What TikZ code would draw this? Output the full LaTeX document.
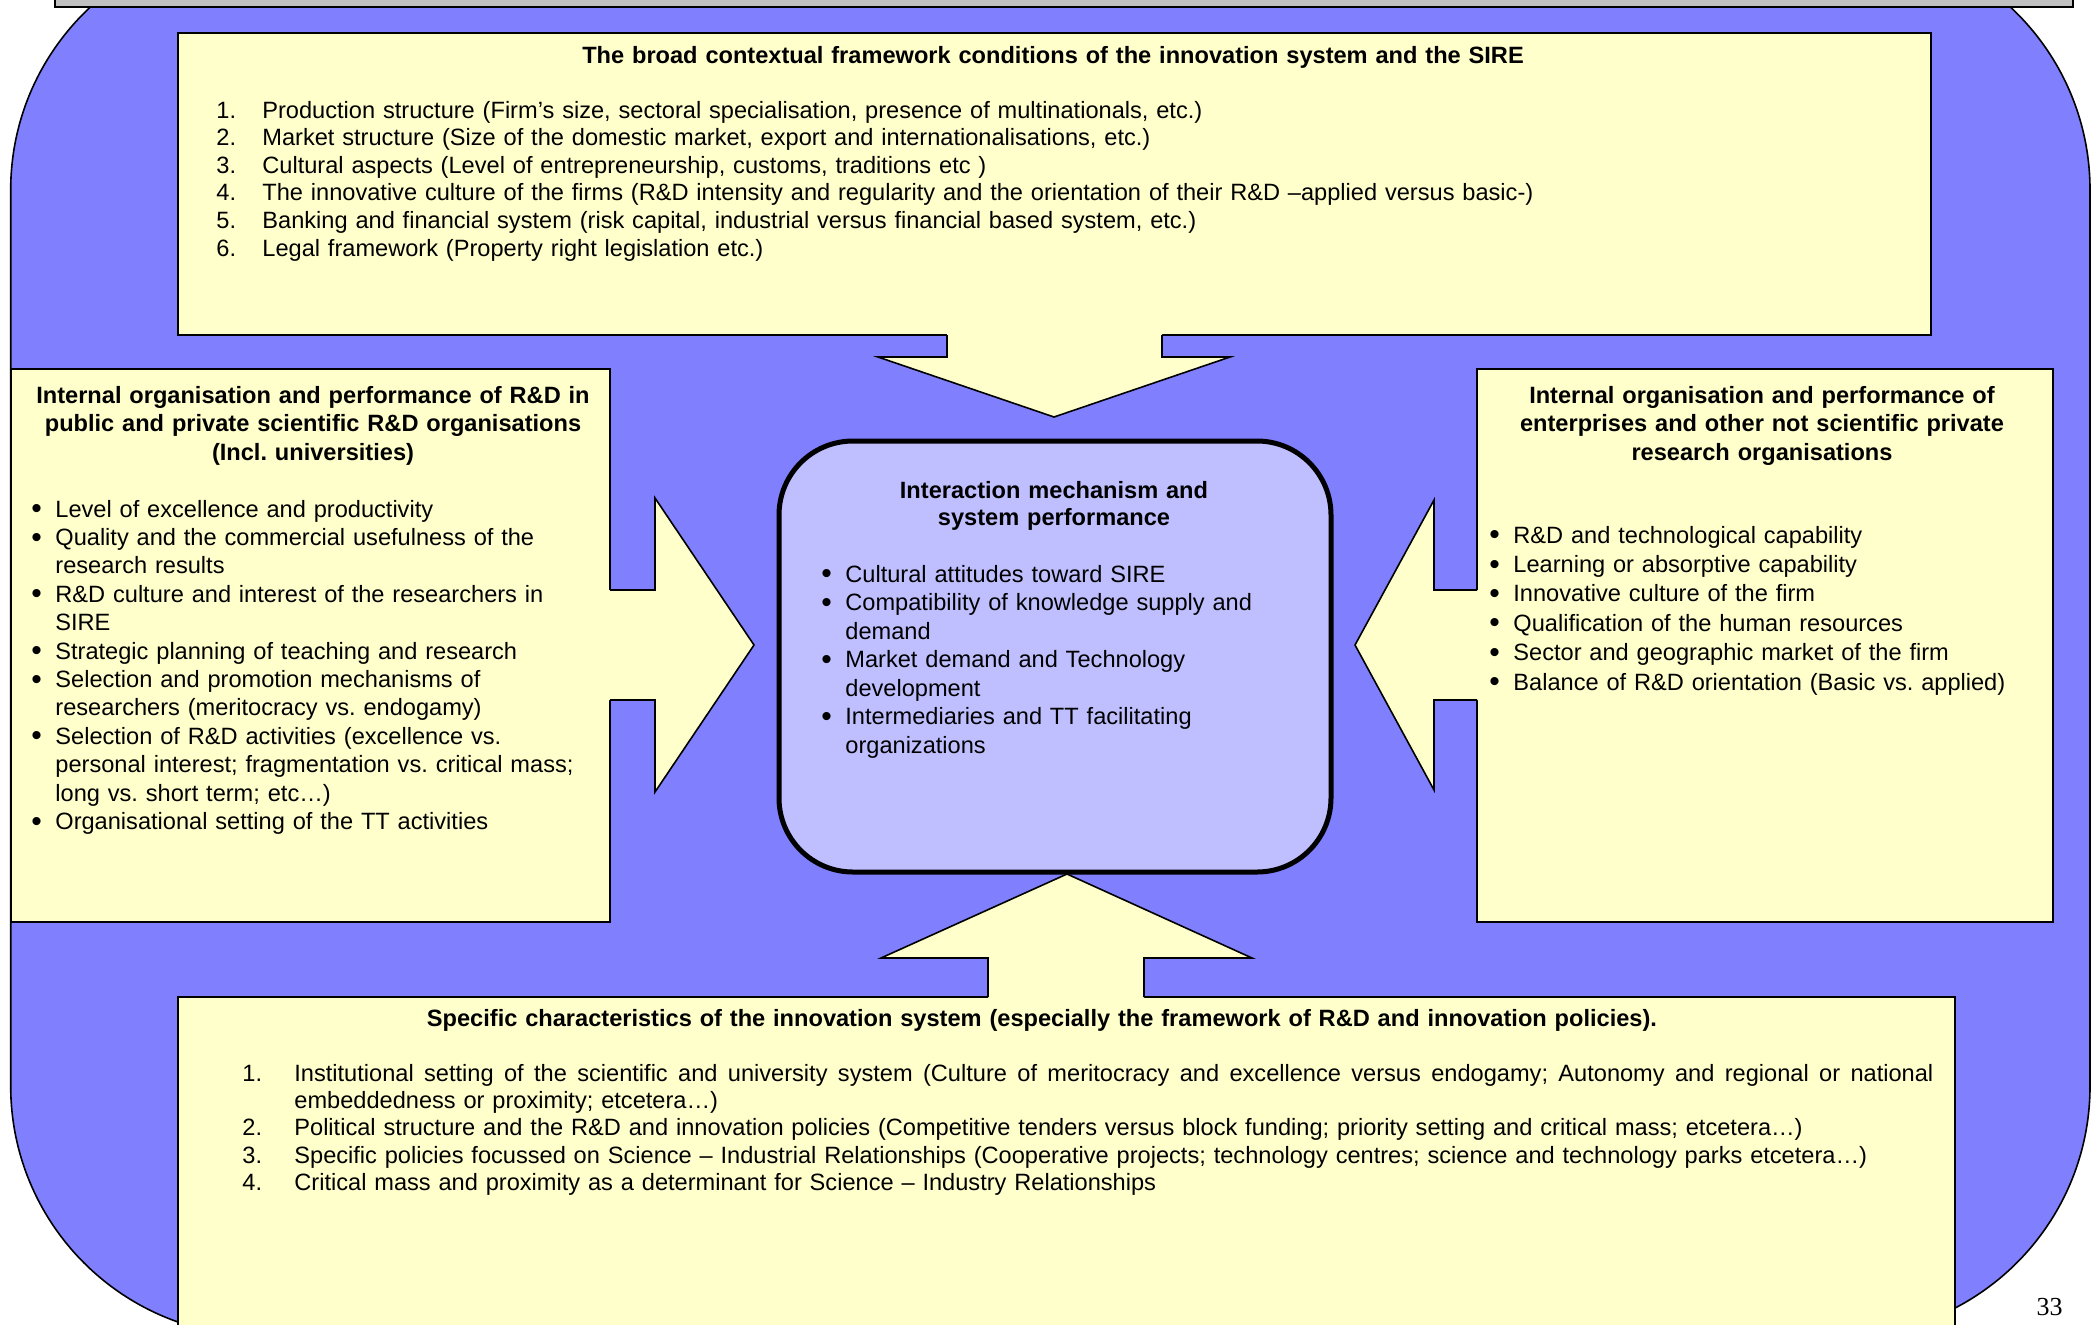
\documentclass[tikz,border=0pt]{standalone}
\usepackage{fontspec}
\setmainfont{Liberation Sans}
\newfontfamily\pageNumFont{Liberation Serif}
\frenchspacing
\definecolor{cFrame}{RGB}{128,128,255}
\definecolor{cPanel}{RGB}{255,255,204}
\definecolor{cCore}{RGB}{191,191,255}
\definecolor{cBar}{RGB}{192,192,192}
\tikzset{
    panel/.style={draw=black, fill=cPanel, line width=0.8pt},
    arrowEdge/.style={draw=black, line width=0.8pt, line join=miter},
    contentBox/.style={
        anchor=base west,
        align=left,
        inner sep=0pt,
        font=\fontsize{11.8pt}{#1}\selectfont
    },
    titleBox/.style={
        anchor=base,
        align=center,
        inner sep=0pt,
        font=\bfseries\fontsize{11.8pt}{#1}\selectfont
    }
}
\newlength{\bulletWidth}
\setlength{\bulletWidth}{12pt}
\newcommand{\bigBullet}{\raisebox{-0.8pt}{\fontsize{15pt}{15pt}\selectfont\textbullet}}
\newcommand{\bulletItem}[1]{\makebox[\bulletWidth][l]{\bigBullet}#1}
\newcommand{\contLine}[1]{\hspace*{\bulletWidth}#1}
\newcommand{\numItem}[3]{\makebox[#1][l]{#2.}#3}
\newcommand{\fullLine}[2]{\hbox to #1{\spaceskip=0.278em plus 1em\relax #2}}

\begin{document}
\begin{tikzpicture}[x=0.5pt, y=-0.5pt]
    \useasboundingbox (0,0) rectangle (2098,1324);
    \clip (0,0) rectangle (2098,1324);
    \fill[white] (0,0) rectangle (2098,1324);

    % frame and header bar
    \draw[fill=cFrame, line width=0.8pt, rounded corners=125pt] (10.7,-60) rectangle (2090,1336);
    \draw[fill=cBar, line width=0.8pt] (55,-20) rectangle (2073,7);

    % panels
    \draw[panel] (178,33) rectangle (1931,335);
    \draw[panel] (10.7,369) rectangle (610,922);
    \draw[panel] (1477,369) rectangle (2053,922);
    \draw[panel] (178,997) rectangle (1955,1340);
    \draw[fill=cCore, line width=2.5pt, rounded corners=37pt] (779,441) rectangle (1331,872);

    % block arrows
    \fill[cPanel] (947,331) -- (947,357) -- (878,357) -- (1054,417) -- (1230,357) -- (1162,357) -- (1162,331) -- cycle;
    \draw[arrowEdge] (947,335) -- (947,357) -- (878,357) -- (1054,417) -- (1230,357) -- (1162,357) -- (1162,335);
    \fill[cPanel] (988,1001) -- (988,958) -- (881,958) -- (1067,874) -- (1252,958) -- (1144,958) -- (1144,1001) -- cycle;
    \draw[arrowEdge] (988,997) -- (988,958) -- (881,958) -- (1067,874) -- (1252,958) -- (1144,958) -- (1144,997);
    \fill[cPanel] (606,590) -- (655,590) -- (655,498) -- (754,645) -- (655,792) -- (655,700) -- (606,700) -- cycle;
    \draw[arrowEdge] (610,590) -- (655,590) -- (655,498) -- (754,645) -- (655,792) -- (655,700) -- (610,700);
    \fill[cPanel] (1481,590) -- (1434,590) -- (1434,500) -- (1355,645) -- (1434,790) -- (1434,700) -- (1481,700) -- cycle;
    \draw[arrowEdge] (1477,590) -- (1434,590) -- (1434,500) -- (1355,645) -- (1434,790) -- (1434,700) -- (1477,700);

    % texts
    \node[titleBox=13.8pt, text width=700pt] (topTitle) at (1053,63) {The broad contextual framework conditions of the innovation system and the SIRE};
    \node[contentBox=13.8pt, text width=760pt] (topList) at (216,118) {
        \numItem{23pt}{1}{Production structure (Firm’s size, sectoral specialisation, presence of multinationals, etc.)}\\
        \numItem{23pt}{2}{Market structure (Size of the domestic market, export and internationalisations, etc.)}\\
        \numItem{23pt}{3}{Cultural aspects (Level of entrepreneurship, customs, traditions etc )}\\
        \numItem{23pt}{4}{The innovative culture of the firms (R\&D intensity and regularity and the orientation of their R\&D –applied versus basic-)}\\
        \numItem{23pt}{5}{Banking and financial system (risk capital, industrial versus financial based system, etc.)}\\
        \numItem{23pt}{6}{Legal framework (Property right legislation etc.)}
    };

    \node[titleBox=14.25pt, text width=290pt] (leftTitle) at (313,403) {Internal organisation and performance of R\&D in\\ public and private scientific R\&D organisations\\ (Incl. universities)};
    \node[contentBox=14.2pt, text width=290pt] (leftList) at (31,517) {
        \bulletItem{Level of excellence and productivity}\\
        \bulletItem{Quality and the commercial usefulness of the}\\
        \contLine{research results}\\
        \bulletItem{R\&D culture and interest of the researchers in}\\
        \contLine{SIRE}\\
        \bulletItem{Strategic planning of teaching and research}\\
        \bulletItem{Selection and promotion mechanisms of}\\
        \contLine{researchers (meritocracy vs. endogamy)}\\
        \bulletItem{Selection of R\&D activities (excellence vs.}\\
        \contLine{personal interest; fragmentation vs. critical mass;}\\
        \contLine{long vs. short term; etc…)}\\
        \bulletItem{Organisational setting of the TT activities}
    };

    \node[titleBox=13.6pt, text width=240pt] (coreTitle) at (1054,498) {Interaction mechanism and\\ system performance};
    \node[contentBox=14.25pt, text width=250pt] (coreList) at (821,582) {
        \bulletItem{Cultural attitudes toward SIRE}\\
        \bulletItem{Compatibility of knowledge supply and}\\
        \contLine{demand}\\
        \bulletItem{Market demand and Technology}\\
        \contLine{development}\\
        \bulletItem{Intermediaries and TT facilitating}\\
        \contLine{organizations}
    };

    \node[titleBox=14.25pt, text width=280pt] (rightTitle) at (1762,403) {Internal organisation and performance of\\ enterprises and other not scientific private\\ research organisations};
    \node[contentBox=14.7pt, text width=280pt] (rightList) at (1489,543) {
        \bulletItem{R\&D and technological capability}\\
        \bulletItem{Learning or absorptive capability}\\
        \bulletItem{Innovative culture of the firm}\\
        \bulletItem{Qualification of the human resources}\\
        \bulletItem{Sector and geographic market of the firm}\\
        \bulletItem{Balance of R\&D orientation (Basic vs. applied)}
    };

    \node[titleBox=13.7pt, text width=860pt] (bottomTitle) at (1042,1026) {Specific characteristics of the innovation system (especially the framework of R\&D and innovation policies).};
    \node[contentBox=13.7pt, text width=860pt] (bottomList) at (242,1081) {
        \numItem{26pt}{1}{\fullLine{819.5pt}{Institutional setting of the scientific and university system (Culture of meritocracy and excellence versus endogamy; Autonomy and regional or national}}\\
        \hspace*{26pt}embeddedness or proximity; etcetera…)\\
        \numItem{26pt}{2}{Political structure and the R\&D and innovation policies (Competitive tenders versus block funding; priority setting and critical mass; etcetera…)}\\
        \numItem{26pt}{3}{Specific policies focussed on Science – Industrial Relationships (Cooperative projects; technology centres; science and technology parks etcetera…)}\\
        \numItem{26pt}{4}{Critical mass and proximity as a determinant for Science – Industry Relationships}
    };

    \node[anchor=base east, inner sep=0pt, font=\pageNumFont\fontsize{13pt}{15pt}\selectfont] (pageNum) at (2063,1315) {33};
\end{tikzpicture}
\end{document}
